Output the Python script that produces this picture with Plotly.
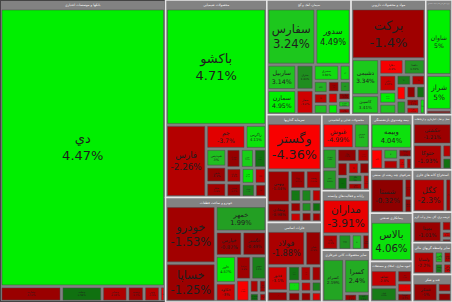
import plotly.graph_objects as go

# ---------------- data (tickers, relative market value, % change) ----------------
banks_title = "بانکها و موسسات اعتباری"
banks_tickers = ["دي", "وتجارت", "وبملت", "وبصادر", "وپست", "ونوین", "وسینا"]
banks_values = [47600, 960, 640, 400, 260, 250, 80]
banks_changes = [4.47, -1.12, 0.58, -2.05, -1.4, -2.3, -4.2]

chem_title = "محصولات شیمیایی"
chem_tickers = ["باکشو", "فارس", "جم", "زاگرس", "شپدیس", "شفن", "شکلر", "شخارک", "شیراز", "شبندر",
                "شاراک", "شغدیر", "شبریز", "شسینا", "شلعاب", "شپاکسا"]
chem_values = [12400, 3080, 1000, 530, 380, 340, 310, 290, 270, 250, 240, 230, 220, 200, 190, 160]
chem_changes = [4.71, -2.26, -3.7, 4.11, 3.0, -1.1, -1.6, -0.9, 3.5, 0.6, -1.9, -0.7, 4.2, -2.8, 1.2, -1.3]

auto_title = "خودرو و ساخت قطعات"
auto_tickers = ["خودرو", "خساپا", "خمهر", "خپارس", "خگستر", "خاور", "خکاوه", "خزامیا", "خبهمن",
                "خموتور", "خرینگ", "خفنر", "خمحرکه", "خچرخش"]
auto_values = [3150, 2100, 1430, 720, 650, 610, 420, 400, 400, 330, 135, 110, 90, 70]
auto_changes = [-1.53, -1.25, 1.99, -0.87, -0.49, 4.57, -3.0, -1.4, 1.1, -4.33, -2.0, -1.2, 0.5, -1.8]

cement_title = "سیمان، آهک و گچ"
cement_tickers = ["سفارس", "سدور", "ساربیل", "سمازن", "ستران", "سفار", "سشرق", "سخزر", "سبهان",
                  "سهگمت", "سخاش", "سصفها", "سیلام", "سقاین", "سبجنو", "سکرما", "سغرب", "سنیر"]
cement_values = [2976, 2183, 809, 775, 479, 467, 459, 200, 190, 170, 160, 150, 140, 130, 120, 110, 100, 90]
cement_changes = [3.24, 4.49, 3.14, 4.95, 1.43, -3.2, 3.86, 4.0, 2.6, -2.5, 3.1, -1.0, 1.8, -3.5, 4.9, -0.6, 3.3, -1.9]

pharma_title = "مواد و محصولات دارویی"
pharma_tickers = ["برکت", "دشیمی", "کاسپین", "دفارا", "دلقما", "دالبر", "دسبحا", "دتماد", "دزهراوی",
                  "دجابر", "دسینا", "داوه", "دعبید", "دکوثر", "دپارس", "دفرا", "درازک"]
pharma_values = [4113, 1098, 581, 422, 372, 323, 230, 200, 180, 170, 160, 150, 140, 130, 120, 110, 100]
pharma_changes = [-1.4, 3.34, 3.41, -4.3, 1.72, -2.97, 4.7, 3.2, 1.0, -2.1, -4.9, 2.0, -0.8, 0.6, -1.7, -3.3, 4.1]

oil_title = "فراورده های نفتی، کک و سوخت هسته ای"
oil_tickers = ["شاوان", "شراز", "شسپا"]
oil_values = [1900, 1000, 124]
oil_changes = [5, 5, -1.2]

inv_title = "سرمایه گذاریها"
inv_tickers = ["وگستر", "وبهمن", "ومعادن", "وتوکا", "وصنعت", "وساخت", "وامید", "ونیکی", "وسپه",
               "والبر", "وکغدیر", "وخارزم", "ونفت", "وپویا"]
inv_values = [2836, 823, 489, 328, 328, 160, 150, 140, 130, 120, 115, 110, 105, 116]
inv_changes = [-4.36, -1.44, -0.98, -1.07, -1.93, 0.8, 1.2, -2.5, -1.1, -3.0, -0.7, 0.5, -1.6, 1.5]

metal_title = "فلزات اساسی"
metal_tickers = ["فولاد", "فملی", "فخوز", "فخاس", "فاسمین", "کاوه", "فسپا", "فجر", "فنورد", "ذوب",
                 "فلوله", "فنوال", "فسرب"]
metal_values = [1523, 653, 601, 250, 220, 200, 180, 150, 140, 130, 120, 110, 123]
metal_changes = [-1.88, -0.9, -3.1, -1.1, 0.7, -2.0, -1.5, 3.9, -0.5, -2.8, 1.1, -3.5, -0.9]

food_title = "محصولات غذایی و آشامیدنی"
food_tickers = ["غنوش", "غبهنوش", "غشهداب", "غمینو", "غپاک", "غدشت", "غزر", "غپینو", "غسالم",
                "غمارگ", "غگل", "غچین", "غاذر"]
food_values = [924, 462, 357, 357, 315, 200, 180, 170, 160, 150, 140, 130, 130]
food_changes = [-4.99, 2.8, 2.08, 1.82, -0.6, -2.1, -1.3, 0.4, -3.0, -0.6, 1.0, -1.8, -2.5]

comp_title = "رایانه و فعالیت‌های وابسته"
comp_tickers = ["مداران", "رتاپ", "سیستم", "رافزا", "مفاخر"]
comp_values = [2000, 300, 250, 200, 141]
comp_changes = [-3.91, -2.1, 1.5, 3.0, -0.8]

nonmet_title = "سایر محصولات کانی غیرفلزی"
nonmet_tickers = ["کسرام", "کسرا", "کرازی", "کاما"]
nonmet_values = [1150, 1100, 130, 120]
nonmet_changes = [2.19, 2.4, -1.2, 0.5]

ins_title = "بیمه وصندوق بازنشستگی"
ins_tickers = ["وبیمه", "البرز", "اتکای", "بپاس", "ودانا", "بنو", "کوثر"]
ins_values = [1300, 320, 200, 180, 150, 110, 92]
ins_changes = [4.04, -4.8, 3.0, -2.2, -1.0, -3.3, -1.6]

multi_title = "شرکتهای چند رشته ای صنعتی"
multi_tickers = ["شستا", "وصندوق", "سیسکو"]
multi_values = [1500, 200, 148]
multi_changes = [-0.32, -1.2, -0.6]

bldg_title = "پیمانکاری صنعتی"
bldg_tickers = ["بالاس"]
bldg_values = [2058]
bldg_changes = [4.06]

house_title = "انبوه سازی، املاک و مستغلات"
house_tickers = ["ثشاهد", "ثامان", "ثباغ", "ثعمرا", "ثنوسا"]
house_values = [600, 500, 250, 200, 172]
house_changes = [-2.8, 0.9, -1.5, -3.6, -0.7]

trans_title = "حمل و نقل، انبارداری و ارتباطات"
trans_tickers = ["حکشتی", "حتوکا", "حپترو", "حآسا"]
trans_values = [1000, 900, 150, 134]
trans_changes = [-1.21, -1.93, -2.5, 0.6]

ore_title = "استخراج کانه های فلزی"
ore_tickers = ["کگل", "کچاد"]
ore_values = [1400, 277]
ore_changes = [-2.3, -1.5]

elec_title = "عرضه برق، گاز، بخار و آب گرم"
elec_tickers = ["بمپنا", "بزاگرس", "بفجر", "بجهرم"]
elec_values = [900, 150, 100, 59]
elec_changes = [-1.01, -2.0, -3.1, -0.5]

fin_title = "سایر واسطه گریهای مالی"
fin_tickers = ["ولساپا", "وآفری", "ولصنم", "ولتجار", "وکار"]
fin_values = [700, 150, 140, 130, 128]
fin_changes = [-2.2, 3.0, -1.8, 1.0, -3.0]

sugar_title = "قند و شکر"
sugar_tickers = ["قشکر", "قثابت", "قنیشا"]
sugar_values = [700, 200, 192]
sugar_changes = [-1.0, -2.0, -0.5]

sectors = {
    "banks": (banks_title, banks_tickers, banks_values, banks_changes),
    "chem": (chem_title, chem_tickers, chem_values, chem_changes),
    "auto": (auto_title, auto_tickers, auto_values, auto_changes),
    "cement": (cement_title, cement_tickers, cement_values, cement_changes),
    "pharma": (pharma_title, pharma_tickers, pharma_values, pharma_changes),
    "oil": (oil_title, oil_tickers, oil_values, oil_changes),
    "inv": (inv_title, inv_tickers, inv_values, inv_changes),
    "metal": (metal_title, metal_tickers, metal_values, metal_changes),
    "food": (food_title, food_tickers, food_values, food_changes),
    "comp": (comp_title, comp_tickers, comp_values, comp_changes),
    "nonmet": (nonmet_title, nonmet_tickers, nonmet_values, nonmet_changes),
    "ins": (ins_title, ins_tickers, ins_values, ins_changes),
    "multi": (multi_title, multi_tickers, multi_values, multi_changes),
    "bldg": (bldg_title, bldg_tickers, bldg_values, bldg_changes),
    "house": (house_title, house_tickers, house_values, house_changes),
    "trans": (trans_title, trans_tickers, trans_values, trans_changes),
    "ore": (ore_title, ore_tickers, ore_values, ore_changes),
    "elec": (elec_title, elec_tickers, elec_values, elec_changes),
    "fin": (fin_title, fin_tickers, fin_values, fin_changes),
    "sugar": (sugar_title, sugar_tickers, sugar_values, sugar_changes),
}

# arrangement of sector groups (h = side by side, v = stacked)
arrangement = ("h", [
    "banks",
    ("v", ["chem", "auto"]),
    ("v", [("h", ["cement", "pharma", "oil"]),
           ("h", [("v", ["inv", "metal"]),
                  ("v", ["food", "comp", "nonmet"]),
                  ("v", ["ins", "multi", "bldg", "house"]),
                  ("v", ["trans", "ore", "elec", "fin", "sugar"])])]),
])

HEADER_GRAY = "#828282"


def total(node):
    if isinstance(node, str):
        return sum(sectors[node][2])
    return sum(total(k) for k in node[1])


def place(node, x0, x1, y0, y1, out):
    if isinstance(node, str):
        out[node] = (x0, x1, y0, y1)
        return
    kind, kids = node
    T = total(node)
    pos = x0 if kind == "h" else y0
    for k in kids:
        f = total(k) / T
        if kind == "h":
            w = (x1 - x0) * f
            place(k, pos, pos + w, y0, y1, out)
            pos += w
        else:
            h = (y1 - y0) * f
            place(k, x0, x1, pos, pos + h, out)
            pos += h


def color_for(c):
    if c >= 0:
        t = min(c / 4.5, 1.0)
        g = int(95 + 145 * t)
        rb = int(36 * 4 * t * (1 - t))
        return "rgb(%d,%d,%d)" % (rb, g, rb)
    t = min(-c / 4.5, 1.0)
    r = int(140 + 115 * t ** 1.5)
    return "rgb(%d,0,0)" % r


boxes = {}
place(arrangement, 0.0, 1.0, 0.0, 1.0, boxes)

fig = go.Figure()
for key, (title, tks, vals, chs) in sectors.items():
    x0, x1, y0, y1 = boxes[key]
    n = len(tks)
    ids = [key] + [key + "/" + t for t in tks]
    labels = [title] + tks
    parents = [""] + [key] * n
    values = [sum(vals)] + vals
    colors = [HEADER_GRAY] + [color_for(c) for c in chs]
    text = [title] + ["%s<br>%s%%" % (t, format(c, "g")) for t, c in zip(tks, chs)]
    fig.add_trace(go.Treemap(
        ids=ids, labels=labels, parents=parents, values=values,
        branchvalues="total", sort=True,
        text=text, textinfo="text", textposition="middle center",
        textfont=dict(family="DejaVu Sans", size=[7.5] + [13] * n,
                      color=["white"] + ["#1e1e1e"] * n),
        marker=dict(colors=colors,
                    line=dict(color=["#e6e6e6"] + ["#4a4a4a"] * n,
                              width=[1.5] + [0.5] * n),
                    pad=dict(t=10, l=2, r=2, b=2)),
        tiling=dict(packing="squarify"),
        pathbar=dict(visible=False),
        domain=dict(x=[max(0, x0), min(1, x1)], y=[max(0, 1 - y1), min(1, 1 - y0)]),
        hoverinfo="skip",
    ))

fig.update_layout(width=452, height=302, margin=dict(l=0, r=0, t=0, b=0),
                  paper_bgcolor="white", showlegend=False)
fig.write_html("out.html")
